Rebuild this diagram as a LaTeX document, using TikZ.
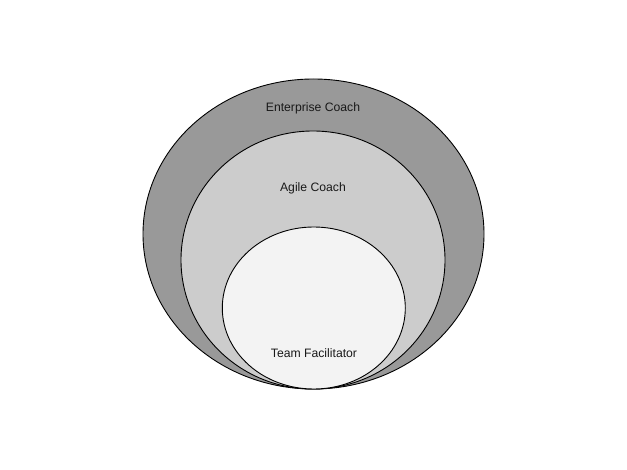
\documentclass[tikz,border=0pt]{standalone}
\usepackage{fontspec}
\setmainfont{Liberation Sans}
\usetikzlibrary{shapes.geometric}
\definecolor{ringdark}{HTML}{999999}
\definecolor{ringmid}{HTML}{CCCCCC}
\definecolor{ringlight}{HTML}{F3F3F3}
\tikzset{
         ring/.style={draw=black,line width=0.9pt,shape=ellipse,inner sep=0pt},
         ringlabel/.style={font=\fontsize{12.2}{14}\selectfont,text=black!90}
        }
\begin{document}
\begin{tikzpicture}[x=1pt,y=-1pt]
      \useasboundingbox (0,0) rectangle (627,470); % page frame
      \node[ring,fill=ringdark,minimum width=341,minimum height=310] (enterprise) at (313.5,234) {}; % outer ring
      \node[ring,fill=ringmid,minimum width=264,minimum height=258] (agile) at (313,260) {}; % middle ring
      \node[ring,fill=ringlight,minimum width=183,minimum height=162] (team) at (313.8,308) {}; % inner ring
      \node[ringlabel] (enterpriselabel) at (313,108) {Enterprise Coach}; % outer label
      \node[ringlabel] (agilelabel) at (313,188) {Agile Coach}; % middle label
      \node[ringlabel] (teamlabel) at (314,353) {Team Facilitator}; % inner label
\end{tikzpicture}
\end{document}
